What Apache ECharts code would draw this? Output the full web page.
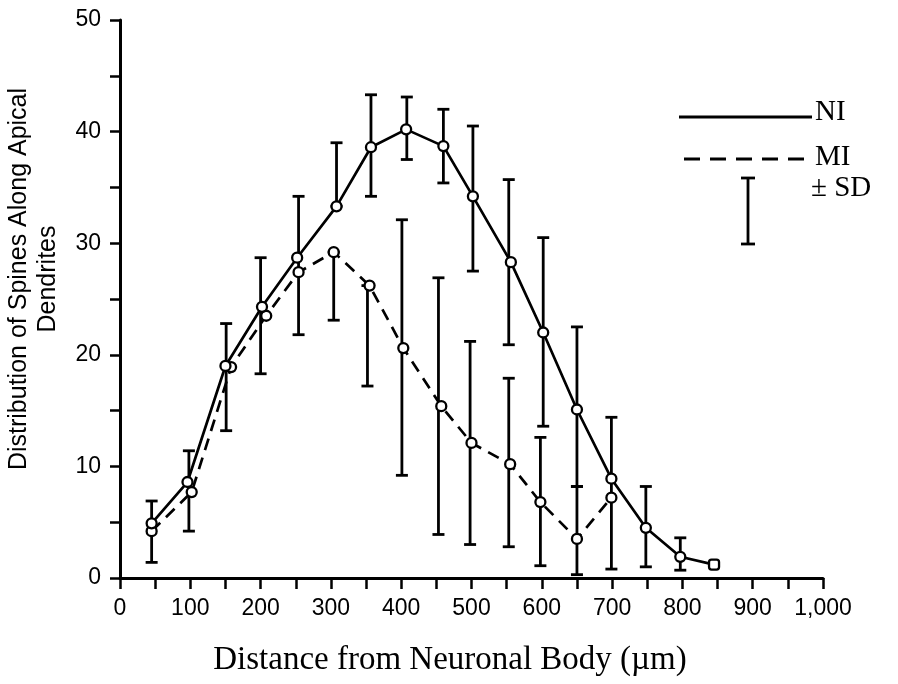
<!DOCTYPE html>
<html>
<head>
	<meta charset="utf-8" />
	<title>Spines along apical dendrites</title>
	<script src="https://cdn.jsdelivr.net/npm/echarts@6/dist/echarts.min.js"></script>
	<style>
		html,body{margin:0;padding:0;background:#fff;}
		#main{width:898px;height:684px;}
	</style>
</head>
<body>
	<div id="main"></div>
	<script type="text/javascript">
		// NI (solid) - distance from body (um) and spine count
		var distNI = [45, 96, 150, 202, 252, 308, 357, 407, 460, 502, 556, 602, 650, 699, 748, 797, 845];
		var spinesNI = [4.9, 8.6, 19.0, 24.3, 28.7, 33.3, 38.6, 40.2, 38.7, 34.2, 28.3, 22.0, 15.1, 8.9, 4.5, 1.9, 1.2];
		// MI (dashed)
		var distMI = [45, 102, 158, 208, 254, 304, 355, 403, 457, 500, 555, 598, 650, 699];
		var spinesMI = [4.2, 7.7, 18.9, 23.5, 27.4, 29.2, 26.2, 20.6, 15.4, 12.1, 10.2, 6.8, 3.5, 7.2];
		// ± SD bars as drawn
		var sdDist = [45, 98, 151, 200, 254, 308, 304, 357, 352, 401, 408, 453, 460, 498, 502, 553, 553, 598, 602, 650, 650, 699, 748, 797];
		var sdLow = [1.4, 4.2, 13.2, 18.3, 21.8, 33.3, 23.1, 34.2, 17.2, 9.2, 37.5, 3.9, 35.4, 3.0, 27.5, 2.8, 20.9, 1.1, 13.6, 0.3, 8.2, 0.8, 1.0, 0.7];
		var sdHigh = [6.9, 11.4, 22.8, 28.7, 34.2, 39.0, 29.2, 43.3, 26.2, 32.1, 43.1, 26.9, 42.0, 21.2, 40.5, 17.9, 35.7, 12.6, 30.5, 8.2, 22.5, 14.4, 8.2, 3.6];

		var sans = 'Liberation Sans';

		var niData = distNI.map(function (d, i) {
			var item = { value: [d, spinesNI[i]] };
			if (i === distNI.length - 1) item.symbol = 'roundRect';
			return item;
		});
		var miData = distMI.map(function (d, i) { return [d, spinesMI[i]]; });
		var sdData = sdDist.map(function (d, i) { return [d, sdLow[i], sdHigh[i]]; });

		function renderSd(params, api) {
			var hi = api.coord([api.value(0), api.value(2)]);
			var lo = api.coord([api.value(0), api.value(1)]);
			var w = 6;
			var st = { stroke: '#000', lineWidth: 2.8 };
			return {
				type: 'group',
				children: [
					{ type: 'line', shape: { x1: hi[0], y1: hi[1], x2: lo[0], y2: lo[1] }, style: st },
					{ type: 'line', shape: { x1: hi[0] - w, y1: hi[1], x2: hi[0] + w, y2: hi[1] }, style: st },
					{ type: 'line', shape: { x1: lo[0] - w, y1: lo[1], x2: lo[0] + w, y2: lo[1] }, style: st }
				]
			};
		}

		var myChart = echarts.init(document.getElementById('main'));
		myChart.setOption({
			animation: false,
			backgroundColor: '#fff',
			grid: { left: 120, right: 75, top: 20, bottom: 106 },
			xAxis: {
				type: 'value',
				min: 0, max: 1000, interval: 50,
				splitLine: { show: false },
				axisLine: { onZero: false, lineStyle: { color: '#000', width: 3 } },
				axisTick: { length: 11, lineStyle: { color: '#000', width: 2.5 } },
				axisLabel: {
					margin: 19, color: '#000', fontFamily: sans, fontSize: 23,
					formatter: function (v) {
						if (v % 100 !== 0) return '';
						return v === 1000 ? '1,000' : String(v);
					}
				}
			},
			yAxis: {
				type: 'value',
				min: 0, max: 50, interval: 5,
				splitLine: { show: false },
				axisLine: { onZero: false, lineStyle: { color: '#000', width: 3 } },
				axisTick: { length: 10, lineStyle: { color: '#000', width: 2.5 } },
				axisLabel: {
					margin: 19, color: '#000', fontFamily: sans, fontSize: 23,
					formatter: function (v) { return v % 10 === 0 ? String(v) : ''; }
				}
			},
			graphic: [
				{ type: 'text', x: 450, y: 660,
					style: { text: 'Distance from Neuronal Body (\u00b5m)', font: '33px "Liberation Serif"', fill: '#000', align: 'center', verticalAlign: 'middle' } },
				{ type: 'text', x: 34, y: 279, rotation: Math.PI / 2,
					style: { text: 'Distribution of Spines Along Apical\nDendrites', font: '25px "Liberation Sans"', fill: '#000', align: 'center', verticalAlign: 'middle', lineHeight: 29 } },
				{ type: 'line', shape: { x1: 679, y1: 117, x2: 812, y2: 117 }, style: { stroke: '#000', lineWidth: 2.8 } },
				{ type: 'text', x: 815, y: 112, style: { text: 'NI', font: '29px "Liberation Serif"', fill: '#000', verticalAlign: 'middle' } },
				{ type: 'line', shape: { x1: 684, y1: 159, x2: 810, y2: 159 }, style: { stroke: '#000', lineWidth: 2.8, lineDash: [16, 10] } },
				{ type: 'text', x: 815, y: 157, style: { text: 'MI', font: '29px "Liberation Serif"', fill: '#000', verticalAlign: 'middle' } },
				{ type: 'line', shape: { x1: 748, y1: 178, x2: 748, y2: 244 }, style: { stroke: '#000', lineWidth: 2.8 } },
				{ type: 'line', shape: { x1: 741, y1: 178, x2: 755, y2: 178 }, style: { stroke: '#000', lineWidth: 2.8 } },
				{ type: 'line', shape: { x1: 741, y1: 244, x2: 755, y2: 244 }, style: { stroke: '#000', lineWidth: 2.8 } },
				{ type: 'text', x: 811, y: 188, style: { text: '\u00b1 SD', font: '29px "Liberation Serif"', fill: '#000', verticalAlign: 'middle' } }
			],
			series: [
				{
					name: 'SD', type: 'custom', renderItem: renderSd, data: sdData,
					encode: { x: 0, y: [1, 2] }, z: 1, silent: true
				},
				{
					name: 'MI', type: 'line', data: miData, z: 3,
					symbol: 'circle', symbolSize: 10,
					lineStyle: { color: '#000', width: 2.7, type: [12, 8] },
					itemStyle: { color: '#fff', borderColor: '#000', borderWidth: 2.3 }
				},
				{
					name: 'NI', type: 'line', data: niData, z: 4,
					symbol: 'circle', symbolSize: 10,
					lineStyle: { color: '#000', width: 2.7 },
					itemStyle: { color: '#fff', borderColor: '#000', borderWidth: 2.3 }
				}
			]
		});
	</script>
</body>
</html>
